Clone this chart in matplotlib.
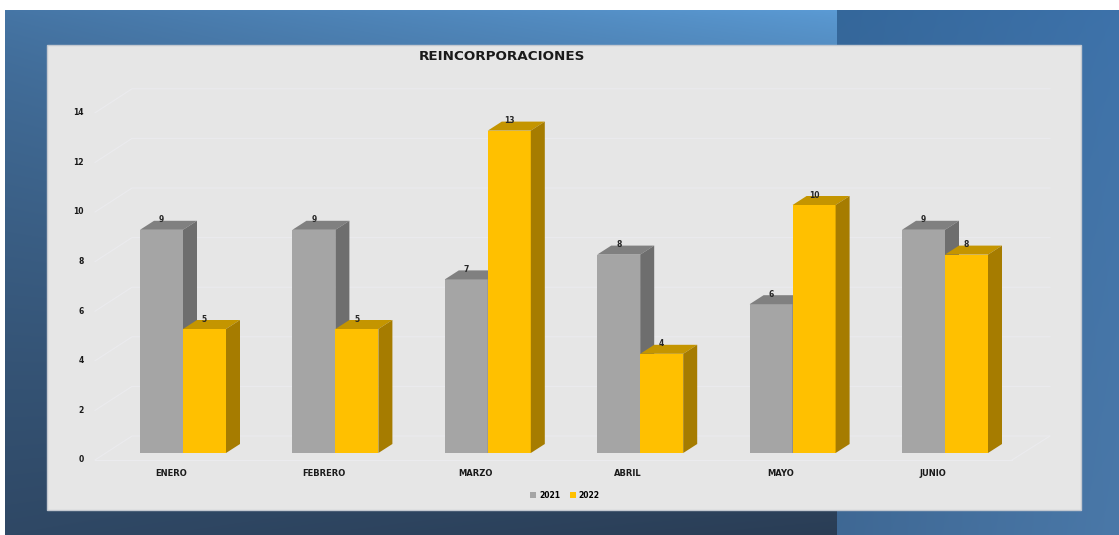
import numpy as np
import matplotlib
matplotlib.use("Agg")
import matplotlib.pyplot as plt
from matplotlib.patches import Polygon, Rectangle, Patch
from matplotlib.colors import to_rgb

# ---------------- data ----------------
categories = ["ENERO", "FEBRERO", "MARZO", "ABRIL", "MAYO", "JUNIO"]
series_names = ["2021", "2022"]
values_2021 = [9, 9, 7, 8, 6, 9]
values_2022 = [5, 5, 13, 4, 10, 8]
y_ticks = [0, 2, 4, 6, 8, 10, 12, 14]
title = "REINCORPORACIONES"

# ---------------- styles ----------------
W, H = 1119, 535
fig = plt.figure(figsize=(W / 100, H / 100), dpi=100)
plt.rcParams['font.family'] = ['DejaVu Sans']

front = {"2021": "#a5a5a5", "2022": "#ffc000"}
top = {"2021": "#808080", "2022": "#c49500"}
side = {"2021": "#6e6e6e", "2022": "#a67c00"}
grid_color = "#ebebee"

# ---------------- background ----------------
img = np.ones((H, W, 3))
yy, xx = np.mgrid[0:H, 0:W]

def bilinear(c_tl, c_tr, c_bl, c_br, x0, x1, y0, y1):
    sx = np.clip((xx - x0) / (x1 - x0), 0, 1)[..., None]
    sy = np.clip((yy - y0) / (y1 - y0), 0, 1)[..., None] ** 0.75
    tl, tr, bl, br = [np.array(to_rgb(c)) for c in (c_tl, c_tr, c_bl, c_br)]
    topc = tl * (1 - sx) + tr * sx
    botc = bl * (1 - sx) + br * sx
    return topc * (1 - sy) + botc * sy

left_grad = bilinear("#4676a6", "#5b9bd5", "#2f4865", "#2a3d55", 5, 837, 10, 535)
right_grad = bilinear("#34679b", "#3d72aa", "#3f6894", "#4a78a8", 837, 1119, 10, 535)
mask_l = (xx >= 5) & (xx < 837) & (yy >= 10)
mask_r = (xx >= 837) & (yy >= 10)
img[mask_l] = left_grad[mask_l]
img[mask_r] = right_grad[mask_r]

bg = fig.add_axes([0, 0, 1, 1])
bg.imshow(img, extent=(0, W, H, 0), aspect="auto", interpolation="bilinear")
bg.add_patch(Rectangle((47, 45), 1034, 465, facecolor="#e6e6e6",
                       edgecolor="#c3c8d0", lw=1))
bg.set_xlim(0, W)
bg.set_ylim(H, 0)
bg.axis("off")

# ---------------- main axes ----------------
px_per_cat = 152.4
px_per_unit = 24.8
x0_px, y0_px = 183, 453
ax_l, ax_r, ax_b, ax_t = 95, 1050, 472, 85
ax = fig.add_axes([ax_l / W, (H - ax_b) / H, (ax_r - ax_l) / W, (ax_b - ax_t) / H])
ax.set_xlim((ax_l - x0_px) / px_per_cat, (ax_r - x0_px) / px_per_cat)
ax.set_ylim((y0_px - ax_b) / px_per_unit, (y0_px - ax_t) / px_per_unit)
ax.axis("off")
ax.patch.set_alpha(0)

dxp = lambda p: p / px_per_cat
dyp = lambda p: p / px_per_unit

# 3D-like gridlines
x_front = ax.get_xlim()[0]
x_back = x_front + dxp(37)
x_end = ax.get_xlim()[1]
for v in y_ticks:
    yf = v - dyp(7)
    yb = v + dyp(17)
    ax.plot([x_front, x_back, x_end], [yf, yb, yb], color=grid_color, lw=0.8,
            zorder=1, clip_on=False)
    ax.text(x_front - dxp(11), yf, str(v), ha="right", va="center",
            fontsize=5.5, fontweight="bold", color="#1a1a1a")
# floor front line
ax.plot([x_front, x_end - dxp(38)], [-dyp(7), -dyp(7)], color=grid_color, lw=0.8, zorder=1)
ax.plot([x_end - dxp(38), x_end], [-dyp(7), dyp(17)], color=grid_color, lw=0.8, zorder=1)

# bars
w = 43 / px_per_cat
ddx, ddy = dxp(14), dyp(9)
idx = np.arange(len(categories))
for k, (name, vals) in enumerate(zip(series_names, [values_2021, values_2022])):
    centers = idx + (k - 0.5) * w
    z = 2 + k
    ax.bar(centers, vals, width=w, color=front[name], zorder=z, edgecolor="none")
    for c, v in zip(centers, vals):
        xl, xr = c - w / 2, c + w / 2
        ax.add_patch(Polygon([(xl, v), (xr, v), (xr + ddx, v + ddy), (xl + ddx, v + ddy)],
                             closed=True, facecolor=top[name], edgecolor="none", zorder=z))
        ax.add_patch(Polygon([(xr, 0), (xr, v), (xr + ddx, v + ddy), (xr + ddx, ddy)],
                             closed=True, facecolor=side[name], edgecolor="none", zorder=z))
        ax.text(c, v + dyp(10), str(v), ha="center", va="center", fontsize=5.5,
                fontweight="bold", color="#262626", zorder=5)

# category labels
for i, cat in enumerate(categories):
    ax.text(i - dxp(12), -dyp(20), cat, ha="center", va="center", fontsize=6,
            fontweight="bold", color="#1a1a1a")

# title
fig.text(502 / W, 1 - 57 / H, title, ha="center", va="center", fontsize=9.7,
         fontweight="bold", color="#1a1a1a")

# legend
handles = [Patch(facecolor=front[n], edgecolor="none", label=n) for n in series_names]
leg = fig.legend(handles=handles, loc="center", bbox_to_anchor=(565 / W, 1 - 495 / H),
                 ncol=2, frameon=False, prop={"size": 5.5, "weight": "bold"},
                 handlelength=0.8, handleheight=0.8, handletextpad=0.4, columnspacing=1.2)

fig.savefig("out.png", dpi=100)
